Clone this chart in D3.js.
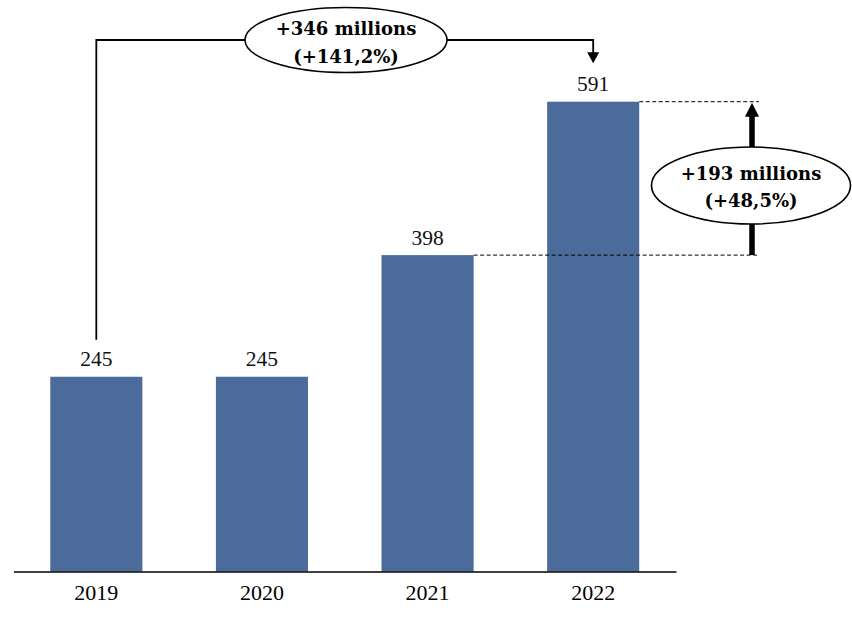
<!DOCTYPE html>
<html><head><meta charset="utf-8">
<script src="https://cdn.jsdelivr.net/npm/d3@7"></script>
<style>body{margin:0;background:#fff}svg{display:block}</style>
</head><body>
<script>
const categories = ["2019","2020","2021","2022"];
const values = [245,245,398,591];
const valueLabels = ["245","245","398","591"];
const totalChangeLabels = ["+346 millions","(+141,2%)"];
const lastChangeLabels = ["+193 millions","(+48,5%)"];

const W=852,H=621;
const svg=d3.select("body").append("svg").attr("width",W).attr("height",H);
const font="'Liberation Serif', serif";
const boldFont="'DejaVu Serif', serif";
const x=d3.scaleBand().domain(categories).range([13.5,676]).paddingInner(0.444).paddingOuter(0.222);
const y=d3.scaleLinear().domain([0,591]).range([571.5,101.7]);
const barColor="#4B6B9A";

svg.selectAll("rect.bar").data(values).join("rect").attr("class","bar")
  .attr("x",(d,i)=>x(categories[i])).attr("width",x.bandwidth())
  .attr("y",d=>y(d)).attr("height",d=>y(0)-y(d)).attr("fill",barColor);

svg.selectAll("text.val").data(values).join("text").attr("class","val")
  .attr("x",(d,i)=>x(categories[i])+x.bandwidth()/2).attr("y",d=>y(d)-10.5)
  .attr("text-anchor","middle").attr("font-family",font).attr("font-size",21.5).attr("fill","#111")
  .text((d,i)=>valueLabels[i]);

const xAxis=svg.append("g").attr("transform",`translate(0,${y(0)})`).call(d3.axisBottom(x).tickSize(0));
xAxis.attr("font-family",font);
xAxis.select(".domain").attr("stroke","#000").attr("stroke-width",1.6);
xAxis.selectAll("text").attr("dy",null).attr("y",28.5).attr("font-family",font).attr("font-size",22).attr("fill","#000");

// top bracket
const c0=x(categories[0])+x.bandwidth()/2, c3=x(categories[3])+x.bandwidth()/2;
const topY=40;
const tip1=y(values[3])-38.5;
svg.append("path").attr("d",`M${c0},${y(values[0])-37}V${topY}H${c3}V${tip1-10}`)
  .attr("fill","none").attr("stroke","#000").attr("stroke-width",1.8);
svg.append("path").attr("d",`M${c3-6},${tip1-11}L${c3+6},${tip1-11}L${c3},${tip1}Z`).attr("fill","#000");
const e1x=346;
svg.append("ellipse").attr("cx",e1x).attr("cy",topY).attr("rx",101).attr("ry",32.5)
  .attr("fill","#fff").attr("stroke","#000").attr("stroke-width",1.6);
svg.selectAll("text.t1").data(totalChangeLabels).join("text").attr("class","t1")
  .attr("x",e1x).attr("y",(d,i)=>35+i*27.8).attr("text-anchor","middle")
  .attr("font-family",boldFont).attr("font-weight","bold").attr("font-size",18).text(d=>d);

// dashed lines
const xr=759;
svg.append("line").attr("x1",x(categories[3])+x.bandwidth()).attr("x2",xr).attr("y1",y(values[3])).attr("y2",y(values[3]))
  .attr("stroke","#000").attr("stroke-dasharray","4,2.5").attr("stroke-width",1);
svg.append("line").attr("x1",x(categories[2])+x.bandwidth()).attr("x2",xr).attr("y1",y(values[2])).attr("y2",y(values[2]))
  .attr("stroke","#000").attr("stroke-dasharray","4,2.5").attr("stroke-width",1);
const ax=752;
const tip2=y(values[3])+1;
svg.append("line").attr("x1",ax).attr("x2",ax).attr("y1",y(values[2])).attr("y2",tip2+12)
  .attr("stroke","#000").attr("stroke-width",5.5);
svg.append("path").attr("d",`M${ax-7},${tip2+14}L${ax+7},${tip2+14}L${ax},${tip2}Z`).attr("fill","#000");
const e2x=751,e2y=185.5;
svg.append("ellipse").attr("cx",e2x).attr("cy",e2y).attr("rx",99.5).attr("ry",38.5)
  .attr("fill","#fff").attr("stroke","#000").attr("stroke-width",1.6);
svg.selectAll("text.t2").data(lastChangeLabels).join("text").attr("class","t2")
  .attr("x",e2x).attr("y",(d,i)=>180+i*27).attr("text-anchor","middle")
  .attr("font-family",boldFont).attr("font-weight","bold").attr("font-size",18).text(d=>d);
</script>
</body></html>
